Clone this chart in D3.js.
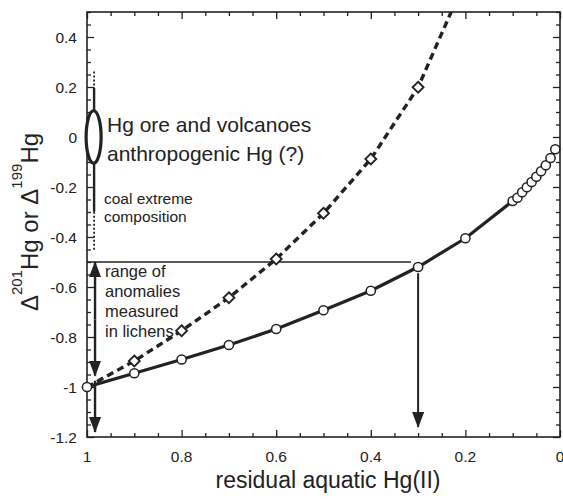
<!DOCTYPE html>
<html><head><meta charset="utf-8">
<script src="https://cdn.jsdelivr.net/npm/d3@7"></script>
<style>
html,body{margin:0;padding:0;background:#fff;}
text{font-family:"Liberation Sans",Arial,Helvetica,sans-serif;fill:#222;}
</style></head>
<body><svg id="chart" width="563" height="499"></svg>
<script>
// ---- data ----
const xTicks = [1, 0.8, 0.6, 0.4, 0.2, 0];
const yTicks = [0.4, 0.2, 0, -0.2, -0.4, -0.6, -0.8, -1, -1.2];
const fSolid = [1, 0.9, 0.8, 0.7, 0.6, 0.5, 0.4, 0.3, 0.2, 0.1, 0.09, 0.08, 0.07, 0.06, 0.05, 0.04, 0.03, 0.02, 0.01];
const dSolid = [-1, -0.945, -0.89, -0.832, -0.768, -0.693, -0.615, -0.52, -0.405, -0.256, -0.243, -0.221, -0.201, -0.18, -0.159, -0.137, -0.113, -0.084, -0.049];
const fDashed = [1, 0.9, 0.8, 0.7, 0.6, 0.5, 0.4, 0.3, 0.2];
const dDashed = [-1, -0.896, -0.775, -0.643, -0.488, -0.305, -0.088, 0.199, 0.63];
const fDiamonds = [0.9, 0.8, 0.7, 0.6, 0.5, 0.4, 0.3];
const dDiamonds = [-0.896, -0.775, -0.643, -0.488, -0.305, -0.088, 0.199];
const lichenRange = [-0.5, -0.955];
const lichenText = ["range of", "anomalies", "measured", "in lichens"];
const oreText = ["Hg ore and volcanoes", "anthropogenic Hg (?)"];
const coalText = ["coal extreme", "composition"];

const svg = d3.select("#chart");
const W = 563, H = 499;
const m = {l: 87, r: 3, t: 12, b: 62};
const x = d3.scaleLinear().domain([1, 0]).range([m.l, W - m.r]);
const y = d3.scaleLinear().domain([-1.2, 0.5]).range([H - m.b, m.t]);
const ink = "#222";

// clip
svg.append("defs").append("clipPath").attr("id", "clip")
  .append("rect").attr("x", m.l).attr("y", m.t).attr("width", x(0) - x(1)).attr("height", y(-1.2) - y(0.5));

// minor/major ticks via axes
const minorX = d3.range(0, 21).map(i => i * 0.05);
const minorY = d3.range(0, 35).map(i => -1.2 + i * 0.05);
function isMajor(v, step) { return Math.abs(Math.round(v / step) * step - v) < 1e-6; }

const gAx = svg.append("g");
gAx.append("g").attr("transform", `translate(0,${y(-1.2)})`)
  .call(d3.axisBottom(x).tickValues(minorX).tickSize(0).tickFormat(""))
  .call(g => g.selectAll(".tick line").attr("y2", d => isMajor(d, 0.2) ? -7 : -4));
gAx.append("g").attr("transform", `translate(0,${y(0.5)})`)
  .call(d3.axisTop(x).tickValues(minorX).tickSize(0).tickFormat(""))
  .call(g => g.selectAll(".tick line").attr("y2", d => isMajor(d, 0.2) ? 7 : 4));
gAx.append("g").attr("transform", `translate(${x(1)},0)`)
  .call(d3.axisLeft(y).tickValues(minorY).tickSize(0).tickFormat(""))
  .call(g => g.selectAll(".tick line").attr("x2", d => isMajor(d, 0.2) ? 7 : 4));
gAx.append("g").attr("transform", `translate(${x(0)},0)`)
  .call(d3.axisRight(y).tickValues(minorY).tickSize(0).tickFormat(""))
  .call(g => g.selectAll(".tick line").attr("x2", d => isMajor(d, 0.2) ? -7 : -4));
gAx.selectAll("path.domain").remove();
gAx.selectAll(".tick line").attr("stroke", ink).attr("stroke-width", 1.3);

// tick labels
const fmt = v => String(+v.toFixed(2));
svg.append("g").selectAll("text").data(xTicks).join("text")
  .attr("x", d => x(d)).attr("y", y(-1.2) + 25).attr("text-anchor", "middle")
  .attr("font-size", 15.5).text(fmt);
svg.append("g").selectAll("text").data(yTicks).join("text")
  .attr("x", x(1) - 10).attr("y", d => y(d)).attr("dy", "0.36em").attr("text-anchor", "end")
  .attr("font-size", 15.5).text(fmt);

// frame
svg.append("rect").attr("x", x(1)).attr("y", y(0.5)).attr("width", x(0) - x(1)).attr("height", y(-1.2) - y(0.5))
  .attr("fill", "none").attr("stroke", ink).attr("stroke-width", 1.6);

// axis titles
svg.append("text").attr("x", 328).attr("y", 488).attr("text-anchor", "middle").attr("font-size", 23)
  .text("residual aquatic Hg(II)");
const yl = svg.append("text").attr("transform", `translate(37.5,${222}) rotate(-90)`)
  .attr("text-anchor", "middle").attr("font-size", 24);
yl.append("tspan").text("Δ");
yl.append("tspan").attr("font-size", 15).attr("dy", -16).text("201");
yl.append("tspan").attr("dy", 16).text("Hg or Δ");
yl.append("tspan").attr("font-size", 15).attr("dy", -16).text("199");
yl.append("tspan").attr("dy", 16).text("Hg");

// arrow marker
const defs = svg.select("defs");
defs.append("marker").attr("id", "arr").attr("viewBox", "0 0 16 12").attr("refX", 15).attr("refY", 6)
  .attr("markerUnits", "userSpaceOnUse").attr("markerWidth", 16).attr("markerHeight", 12)
  .attr("orient", "auto")
  .append("path").attr("d", "M0,0 L16,6 L0,12 Z").attr("fill", ink);

// annotations
const ann = svg.append("g");
ann.append("line").attr("x1", x(1)).attr("x2", x(0.315)).attr("y1", y(-0.5)).attr("y2", y(-0.5))
  .attr("stroke", ink).attr("stroke-width", 1.6);
ann.append("line").attr("x1", x(0.3)).attr("x2", x(0.3)).attr("y1", y(-0.545)).attr("y2", y(-1.16))
  .attr("stroke", ink).attr("stroke-width", 2).attr("marker-end", "url(#arr)");

const xc = x(0.985);
ann.append("line").attr("x1", xc).attr("x2", xc).attr("y1", y(0.262)).attr("y2", y(0.196))
  .attr("stroke", ink).attr("stroke-width", 1.8).attr("stroke-dasharray", "2,2");
ann.append("line").attr("x1", xc).attr("x2", xc).attr("y1", y(0.196)).attr("y2", y(-0.299))
  .attr("stroke", ink).attr("stroke-width", 2.4);
ann.append("line").attr("x1", xc).attr("x2", xc).attr("y1", y(-0.299)).attr("y2", y(-0.452))
  .attr("stroke", ink).attr("stroke-width", 1.8).attr("stroke-dasharray", "2,2");
ann.append("ellipse").attr("cx", x(0.986)).attr("cy", y(0)).attr("rx", 7.5).attr("ry", y(-0.105) - y(0))
  .attr("fill", "#fff").attr("stroke", ink).attr("stroke-width", 3.2);

const xa = x(0.983);
ann.append("line").attr("x1", xa).attr("x2", xa).attr("y1", y(-0.73)).attr("y2", y(lichenRange[0]))
  .attr("stroke", ink).attr("stroke-width", 2.4).attr("marker-end", "url(#arr)");
ann.append("line").attr("x1", xa).attr("x2", xa).attr("y1", y(-0.73)).attr("y2", y(lichenRange[1]))
  .attr("stroke", ink).attr("stroke-width", 2.4).attr("marker-end", "url(#arr)");
ann.append("line").attr("x1", xa).attr("x2", xa).attr("y1", y(-0.975)).attr("y2", y(-1.18))
  .attr("stroke", ink).attr("stroke-width", 2.4).attr("marker-end", "url(#arr)");

// texts
svg.append("g").selectAll("text").data(oreText).join("text")
  .attr("x", 107).attr("y", (d, i) => 132 + i * 29).attr("font-size", 21).text(d => d);
svg.append("g").selectAll("text").data(coalText).join("text")
  .attr("x", 104).attr("y", (d, i) => 204 + i * 18).attr("font-size", 15.5).text(d => d);
svg.append("g").selectAll("text").data(lichenText).join("text")
  .attr("x", 105).attr("y", (d, i) => 277 + i * 20).attr("font-size", 16.5).text(d => d);

// series
const plot = svg.append("g").attr("clip-path", "url(#clip)");
const dashedPts = fDashed.map((f, i) => [f, dDashed[i]]);
const solidPts = fSolid.map((f, i) => [f, dSolid[i]]);
const line = d3.line().x(d => x(d[0])).y(d => y(d[1]));
plot.append("path").attr("d", line(dashedPts)).attr("fill", "none").attr("stroke", ink)
  .attr("stroke-width", 3.4).attr("stroke-dasharray", "7,4.5");
plot.append("path").attr("d", line(solidPts)).attr("fill", "none").attr("stroke", ink)
  .attr("stroke-width", 3.2);
plot.append("g").selectAll("path").data(fDiamonds.map((f, i) => [f, dDiamonds[i]])).join("path")
  .attr("transform", d => `translate(${x(d[0])},${y(d[1])})`)
  .attr("d", "M0,-5.5 L5.5,0 L0,5.5 L-5.5,0 Z")
  .attr("fill", "#fff").attr("stroke", ink).attr("stroke-width", 1.8);
svg.append("g").selectAll("circle").data(solidPts).join("circle")
  .attr("cx", d => x(d[0])).attr("cy", d => y(d[1])).attr("r", 4.6)
  .attr("fill", "#fff").attr("stroke", ink).attr("stroke-width", 1.5);
</script></body></html>
